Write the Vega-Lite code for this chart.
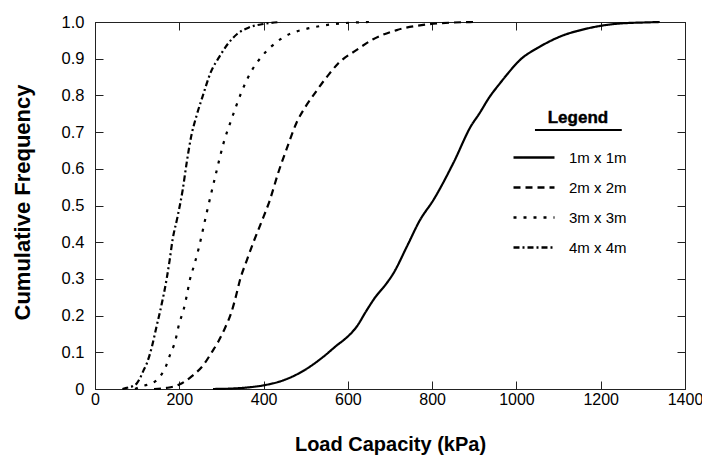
{
  "$schema": "https://vega.github.io/schema/vega-lite/v6.json",
  "width": 590,
  "height": 367,
  "autosize": {"type": "none"},
  "padding": {"left": 95, "top": 22, "right": 17, "bottom": 67},
  "background": "white",
  "config": {
    "view": {"stroke": "#222", "strokeWidth": 1},
    "axis": {
      "grid": false,
      "domainColor": "#222",
      "tickColor": "#222",
      "labelFont": "Liberation Sans",
      "labelFontSize": 16.5,
      "labelColor": "black",
      "titleFont": "Liberation Sans",
      "titleFontSize": 22,
      "titleFontWeight": "bold",
      "titleColor": "black",
      "labelFlush": false,
      "labelOverlap": false
    }
  },
  "data": {"values": [
    {"s": "1m x 1m", "x": 280, "y": 0},
    {"s": "1m x 1m", "x": 320, "y": 0.001},
    {"s": "1m x 1m", "x": 360, "y": 0.004},
    {"s": "1m x 1m", "x": 400, "y": 0.01},
    {"s": "1m x 1m", "x": 450, "y": 0.025},
    {"s": "1m x 1m", "x": 498, "y": 0.052},
    {"s": "1m x 1m", "x": 542, "y": 0.088},
    {"s": "1m x 1m", "x": 575, "y": 0.12},
    {"s": "1m x 1m", "x": 597, "y": 0.14},
    {"s": "1m x 1m", "x": 621, "y": 0.17},
    {"s": "1m x 1m", "x": 645, "y": 0.215},
    {"s": "1m x 1m", "x": 665, "y": 0.25},
    {"s": "1m x 1m", "x": 690, "y": 0.285},
    {"s": "1m x 1m", "x": 708, "y": 0.315},
    {"s": "1m x 1m", "x": 740, "y": 0.388},
    {"s": "1m x 1m", "x": 771, "y": 0.46},
    {"s": "1m x 1m", "x": 803, "y": 0.515},
    {"s": "1m x 1m", "x": 850, "y": 0.615},
    {"s": "1m x 1m", "x": 894, "y": 0.72},
    {"s": "1m x 1m", "x": 910, "y": 0.747},
    {"s": "1m x 1m", "x": 937, "y": 0.797},
    {"s": "1m x 1m", "x": 961, "y": 0.833},
    {"s": "1m x 1m", "x": 977, "y": 0.856},
    {"s": "1m x 1m", "x": 1008, "y": 0.896},
    {"s": "1m x 1m", "x": 1056, "y": 0.933},
    {"s": "1m x 1m", "x": 1103, "y": 0.96},
    {"s": "1m x 1m", "x": 1167, "y": 0.982},
    {"s": "1m x 1m", "x": 1246, "y": 0.996},
    {"s": "1m x 1m", "x": 1312, "y": 0.999},
    {"s": "1m x 1m", "x": 1340, "y": 1.0},
    {"s": "2m x 2m", "x": 140, "y": 0},
    {"s": "2m x 2m", "x": 170, "y": 0.003},
    {"s": "2m x 2m", "x": 200, "y": 0.012},
    {"s": "2m x 2m", "x": 230, "y": 0.035},
    {"s": "2m x 2m", "x": 257, "y": 0.065},
    {"s": "2m x 2m", "x": 277, "y": 0.1},
    {"s": "2m x 2m", "x": 293, "y": 0.13},
    {"s": "2m x 2m", "x": 308, "y": 0.165},
    {"s": "2m x 2m", "x": 324, "y": 0.21},
    {"s": "2m x 2m", "x": 336, "y": 0.26},
    {"s": "2m x 2m", "x": 344, "y": 0.297},
    {"s": "2m x 2m", "x": 360, "y": 0.35},
    {"s": "2m x 2m", "x": 376, "y": 0.4},
    {"s": "2m x 2m", "x": 395, "y": 0.455},
    {"s": "2m x 2m", "x": 415, "y": 0.515},
    {"s": "2m x 2m", "x": 435, "y": 0.59},
    {"s": "2m x 2m", "x": 455, "y": 0.655},
    {"s": "2m x 2m", "x": 478, "y": 0.725},
    {"s": "2m x 2m", "x": 500, "y": 0.77},
    {"s": "2m x 2m", "x": 518, "y": 0.8},
    {"s": "2m x 2m", "x": 554, "y": 0.856},
    {"s": "2m x 2m", "x": 577, "y": 0.887},
    {"s": "2m x 2m", "x": 621, "y": 0.924},
    {"s": "2m x 2m", "x": 660, "y": 0.953},
    {"s": "2m x 2m", "x": 716, "y": 0.978},
    {"s": "2m x 2m", "x": 779, "y": 0.992},
    {"s": "2m x 2m", "x": 840, "y": 0.998},
    {"s": "2m x 2m", "x": 900, "y": 1.0},
    {"s": "3m x 3m", "x": 95, "y": 0},
    {"s": "3m x 3m", "x": 107, "y": 0.006},
    {"s": "3m x 3m", "x": 125, "y": 0.012},
    {"s": "3m x 3m", "x": 142, "y": 0.02},
    {"s": "3m x 3m", "x": 155, "y": 0.035},
    {"s": "3m x 3m", "x": 168, "y": 0.061},
    {"s": "3m x 3m", "x": 178, "y": 0.093},
    {"s": "3m x 3m", "x": 190, "y": 0.129},
    {"s": "3m x 3m", "x": 200, "y": 0.179},
    {"s": "3m x 3m", "x": 210, "y": 0.215},
    {"s": "3m x 3m", "x": 218, "y": 0.256},
    {"s": "3m x 3m", "x": 225, "y": 0.297},
    {"s": "3m x 3m", "x": 236, "y": 0.34},
    {"s": "3m x 3m", "x": 247, "y": 0.388},
    {"s": "3m x 3m", "x": 265, "y": 0.48},
    {"s": "3m x 3m", "x": 287, "y": 0.587},
    {"s": "3m x 3m", "x": 305, "y": 0.67},
    {"s": "3m x 3m", "x": 323, "y": 0.732},
    {"s": "3m x 3m", "x": 348, "y": 0.81},
    {"s": "3m x 3m", "x": 370, "y": 0.864},
    {"s": "3m x 3m", "x": 395, "y": 0.905},
    {"s": "3m x 3m", "x": 420, "y": 0.935},
    {"s": "3m x 3m", "x": 463, "y": 0.968},
    {"s": "3m x 3m", "x": 497, "y": 0.98},
    {"s": "3m x 3m", "x": 540, "y": 0.99},
    {"s": "3m x 3m", "x": 592, "y": 0.997},
    {"s": "3m x 3m", "x": 650, "y": 1.0},
    {"s": "4m x 4m", "x": 65, "y": 0},
    {"s": "4m x 4m", "x": 75, "y": 0.003},
    {"s": "4m x 4m", "x": 90, "y": 0.008},
    {"s": "4m x 4m", "x": 99, "y": 0.015},
    {"s": "4m x 4m", "x": 107, "y": 0.03},
    {"s": "4m x 4m", "x": 115, "y": 0.05},
    {"s": "4m x 4m", "x": 123, "y": 0.07},
    {"s": "4m x 4m", "x": 135, "y": 0.115},
    {"s": "4m x 4m", "x": 146, "y": 0.17},
    {"s": "4m x 4m", "x": 158, "y": 0.23},
    {"s": "4m x 4m", "x": 170, "y": 0.3},
    {"s": "4m x 4m", "x": 177, "y": 0.35},
    {"s": "4m x 4m", "x": 184, "y": 0.406},
    {"s": "4m x 4m", "x": 196, "y": 0.47},
    {"s": "4m x 4m", "x": 208, "y": 0.542},
    {"s": "4m x 4m", "x": 218, "y": 0.62},
    {"s": "4m x 4m", "x": 228, "y": 0.687},
    {"s": "4m x 4m", "x": 241, "y": 0.745},
    {"s": "4m x 4m", "x": 255, "y": 0.796},
    {"s": "4m x 4m", "x": 275, "y": 0.864},
    {"s": "4m x 4m", "x": 295, "y": 0.905},
    {"s": "4m x 4m", "x": 315, "y": 0.94},
    {"s": "4m x 4m", "x": 338, "y": 0.968},
    {"s": "4m x 4m", "x": 365, "y": 0.985},
    {"s": "4m x 4m", "x": 402, "y": 0.995},
    {"s": "4m x 4m", "x": 440, "y": 1.0}
  ]},
  "layer": [
    {
      "mark": {"type": "line", "color": "black", "strokeWidth": 2.2, "strokeCap": "butt", "interpolate": "monotone"},
      "encoding": {
        "x": {
          "field": "x", "type": "quantitative",
          "scale": {"domain": [0, 1400], "nice": false},
          "axis": {
            "orient": "bottom",
            "values": [0, 200, 400, 600, 800, 1000, 1200, 1400],
            "format": "d",
            "tickSize": -8,
            "labelPadding": 10,
            "labelFontSize": 16,
            "title": "Load Capacity (kPa)",
            "titleFontSize": 20,
            "titleX": 295,
            "titleY": 55,
            "titleAlign": "center",
            "titleBaseline": "middle"
          }
        },
        "y": {
          "field": "y", "type": "quantitative",
          "scale": {"domain": [0, 1], "nice": false},
          "axis": {
            "orient": "left",
            "values": [0, 0.1, 0.2, 0.3, 0.4, 0.5, 0.6, 0.7, 0.8, 0.9, 1.0],
            "labelExpr": "datum.value == 0 ? '0' : format(datum.value, '.1f')",
            "tickSize": -8,
            "labelPadding": 19,
            "title": "Cumulative Frequency",
            "titleX": -73,
            "titleY": 180,
            "titleAlign": "center",
            "titleBaseline": "middle"
          }
        },
        "detail": {"field": "s"},
        "strokeDash": {
          "field": "s", "type": "nominal",
          "scale": {
            "domain": ["1m x 1m", "2m x 2m", "3m x 3m", "4m x 4m"],
            "range": [[1, 0], [7, 5], [3, 7], [6, 3, 2, 3]]
          },
          "legend": {
            "orient": "none",
            "legendX": 417,
            "legendY": 113.5,
            "title": null,
            "labelFont": "Liberation Sans",
            "labelFontSize": 15,
            "labelColor": "black",
            "labelOffset": 13,
            "symbolType": "stroke",
            "symbolSize": 1681,
            "symbolStrokeWidth": 2.5,
            "symbolStrokeColor": "black",
            "rowPadding": -11
          }
        }
      }
    },
    {
      "mark": {"type": "point", "opacity": 0},
      "encoding": {
        "x": {
          "field": "x", "type": "quantitative",
          "axis": {"orient": "top", "values": [0, 200, 400, 600, 800, 1000, 1200, 1400], "labels": false, "tickSize": -8, "title": null}
        },
        "y": {
          "field": "y", "type": "quantitative",
          "axis": {"orient": "right", "values": [0, 0.1, 0.2, 0.3, 0.4, 0.5, 0.6, 0.7, 0.8, 0.9, 1.0], "labels": false, "tickSize": -8, "title": null}
        }
      }
    },
    {
      "data": {"values": [{"label": "Legend"}]},
      "mark": {"type": "rule", "color": "black", "strokeWidth": 2},
      "encoding": {
        "x": {"datum": 1044, "type": "quantitative", "axis": null},
        "x2": {"datum": 1250},
        "y": {"datum": 0.706, "type": "quantitative", "axis": null}
      }
    },
    {
      "data": {"values": [{"label": "Legend"}]},
      "mark": {"type": "text", "font": "Liberation Sans", "fontSize": 17, "fontWeight": "bold", "fill": "black", "stroke": "black", "strokeWidth": 0.4, "align": "center", "baseline": "middle"},
      "encoding": {
        "text": {"field": "label"},
        "x": {"datum": 1146, "type": "quantitative", "axis": null},
        "y": {"datum": 0.738, "type": "quantitative", "axis": null}
      }
    }
  ],
  "resolve": {"axis": {"x": "independent", "y": "independent"}}
}
